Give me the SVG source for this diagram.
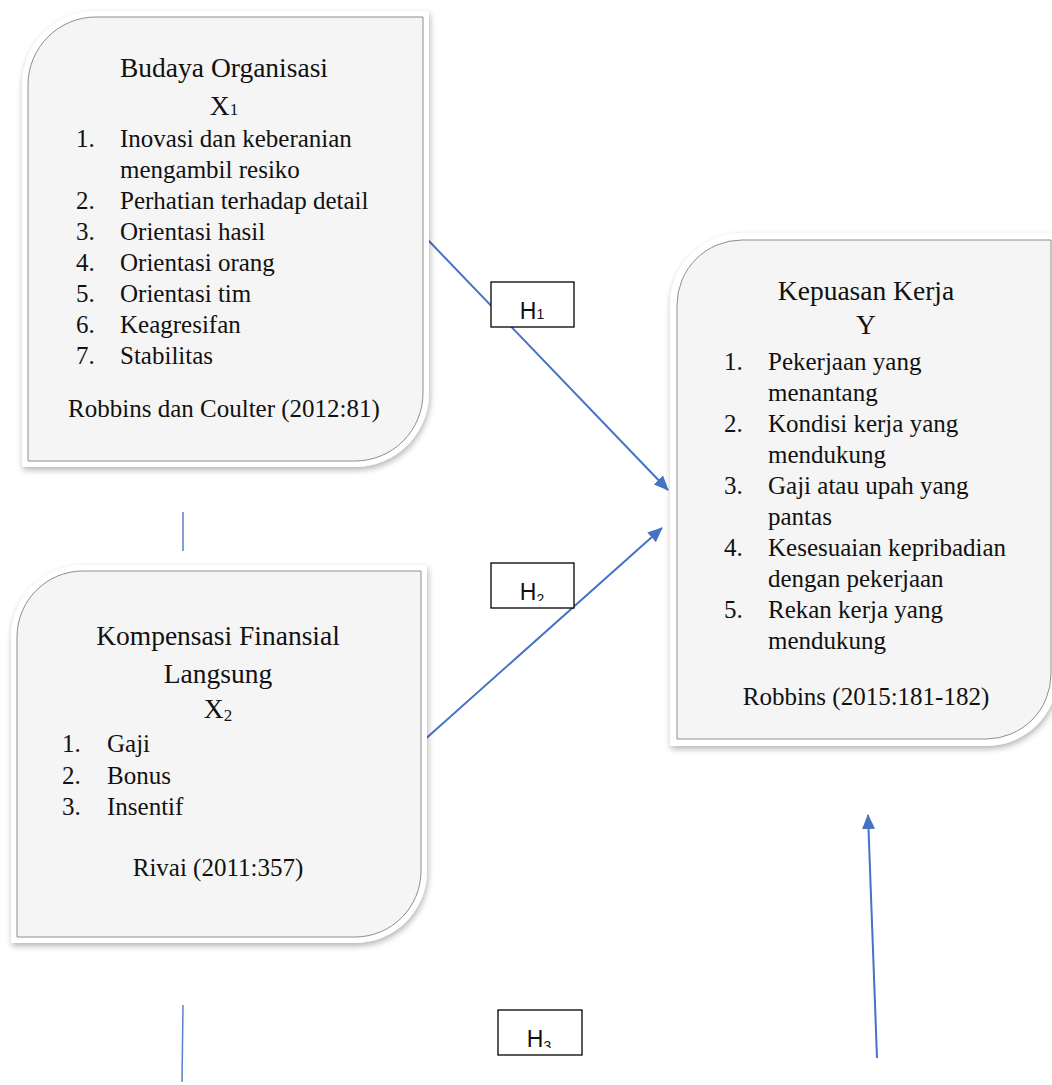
<svg xmlns="http://www.w3.org/2000/svg" width="1052" height="1085" viewBox="0 0 1052 1085">
<style>
.t{font-family:"Liberation Serif","Times New Roman",serif;font-size:25px;fill:#111}
.h{font-size:27.5px}
.c{text-anchor:middle}
.sub{font-size:17px}
.outer{fill:#ffffff;filter:url(#sh)}
.inner{fill:#f5f5f5;stroke:#8e8e8e;stroke-width:1}
.hb{fill:#ffffff;stroke:#000;stroke-width:1.3}
.ht{font-family:"Liberation Sans",Arial,sans-serif;font-size:23px;fill:#111;text-anchor:middle}
.hs{font-size:14px}
.ln{stroke:#4472C4;stroke-width:2;fill:none}
.ln2{stroke:#5b82c9;stroke-width:1.5;fill:none}
</style>
<defs>
<filter id="sh" x="-10%" y="-10%" width="125%" height="125%">
<feGaussianBlur in="SourceAlpha" stdDeviation="3"/>
<feOffset dx="1" dy="3" result="o"/>
<feComponentTransfer><feFuncA type="linear" slope="0.3"/></feComponentTransfer>
<feMerge><feMergeNode/><feMergeNode in="SourceGraphic"/></feMerge>
</filter>
<marker id="ah" markerWidth="15" markerHeight="13" refX="14" refY="6.5" orient="auto" markerUnits="userSpaceOnUse">
<path d="M0,0 L15,6.5 L0,13 z" fill="#4472C4"/>
</marker>
<clipPath id="c1"><rect x="492" y="283" width="81" height="37"/></clipPath>
<clipPath id="c2"><rect x="492" y="564" width="81" height="37"/></clipPath>
<clipPath id="c3"><rect x="499" y="1011" width="82" height="37"/></clipPath>
</defs>
<rect width="1052" height="1085" fill="#ffffff"/>

<g id="connectors">
<line class="ln" x1="428" y1="240" x2="668" y2="490" marker-end="url(#ah)"/>
<line class="ln" x1="422" y1="742" x2="662" y2="528" marker-end="url(#ah)"/>
<line class="ln" x1="877" y1="1058" x2="868" y2="815" marker-end="url(#ah)"/>
<line class="ln2" x1="183" y1="512" x2="183" y2="551"/>
<line class="ln2" x1="183" y1="1005" x2="182" y2="1082"/>
</g>

<g id="h1">
<rect class="hb" x="491" y="282" width="83" height="45"/>
<text class="ht" x="532" y="319" clip-path="url(#c1)">H<tspan class="hs">1</tspan></text>
</g>
<g id="h2">
<rect class="hb" x="491" y="563" width="83" height="45"/>
<text class="ht" x="532" y="600" clip-path="url(#c2)">H<tspan class="hs" dy="4">2</tspan></text>
</g>
<g id="h3">
<rect class="hb" x="498" y="1010" width="84" height="45"/>
<text class="ht" x="539" y="1047" clip-path="url(#c3)">H<tspan class="hs" dy="4">3</tspan></text>
</g>

<g id="x1">
<path class="outer" d="M22,85 A74,74 0 0 1 96,11 L429,11 L429,393 A74,74 0 0 1 355,467 L22,467 Z"/>
<path class="inner" d="M28,85 A68,68 0 0 1 96,17 L423,17 L423,393 A68,68 0 0 1 355,461 L28,461 Z"/>
<text class="t h c" x="224" y="77">Budaya Organisasi</text>
<text class="t h c" x="224" y="115">X<tspan class="sub">1</tspan></text>
<text class="t" x="76" y="147">1.</text><text class="t" x="120" y="147">Inovasi dan keberanian</text>
<text class="t" x="120" y="178">mengambil resiko</text>
<text class="t" x="76" y="209">2.</text><text class="t" x="120" y="209">Perhatian terhadap detail</text>
<text class="t" x="76" y="240">3.</text><text class="t" x="120" y="240">Orientasi hasil</text>
<text class="t" x="76" y="271">4.</text><text class="t" x="120" y="271">Orientasi orang</text>
<text class="t" x="76" y="302">5.</text><text class="t" x="120" y="302">Orientasi tim</text>
<text class="t" x="76" y="333">6.</text><text class="t" x="120" y="333">Keagresifan</text>
<text class="t" x="76" y="364">7.</text><text class="t" x="120" y="364">Stabilitas</text>
<text class="t c" x="224" y="417">Robbins dan Coulter (2012:81)</text>
</g>

<g id="x2">
<path class="outer" d="M11,637 A72,72 0 0 1 83,565 L427,565 L427,871 A72,72 0 0 1 355,943 L11,943 Z"/>
<path class="inner" d="M17,637 A66,66 0 0 1 83,571 L421,571 L421,871 A66,66 0 0 1 355,937 L17,937 Z"/>
<text class="t h c" x="218" y="645">Kompensasi Finansial</text>
<text class="t h c" x="218" y="683">Langsung</text>
<text class="t h c" x="218" y="718">X<tspan class="sub" dy="3">2</tspan></text>
<text class="t" x="62" y="752">1.</text><text class="t" x="107" y="752">Gaji</text>
<text class="t" x="62" y="784">2.</text><text class="t" x="107" y="784">Bonus</text>
<text class="t" x="62" y="815">3.</text><text class="t" x="107" y="815">Insentif</text>
<text class="t c" x="218" y="876">Rivai (2011:357)</text>
</g>

<g id="y">
<path class="outer" d="M670,305 A72,72 0 0 1 742,233 L1058,233 L1058,674 A72,72 0 0 1 986,746 L670,746 Z"/>
<path class="inner" d="M677,305 A65,65 0 0 1 742,240 L1051,240 L1051,674 A65,65 0 0 1 986,739 L677,739 Z"/>
<text class="t h c" x="866" y="300">Kepuasan Kerja</text>
<text class="t h c" x="866" y="334">Y</text>
<text class="t" x="724" y="370">1.</text><text class="t" x="768" y="370">Pekerjaan yang</text>
<text class="t" x="768" y="401">menantang</text>
<text class="t" x="724" y="432">2.</text><text class="t" x="768" y="432">Kondisi kerja yang</text>
<text class="t" x="768" y="463">mendukung</text>
<text class="t" x="724" y="494">3.</text><text class="t" x="768" y="494">Gaji atau upah yang</text>
<text class="t" x="768" y="525">pantas</text>
<text class="t" x="724" y="556">4.</text><text class="t" x="768" y="556">Kesesuaian kepribadian</text>
<text class="t" x="768" y="587">dengan pekerjaan</text>
<text class="t" x="724" y="618">5.</text><text class="t" x="768" y="618">Rekan kerja yang</text>
<text class="t" x="768" y="649">mendukung</text>
<text class="t c" x="866" y="705">Robbins (2015:181-182)</text>
</g>
</svg>
